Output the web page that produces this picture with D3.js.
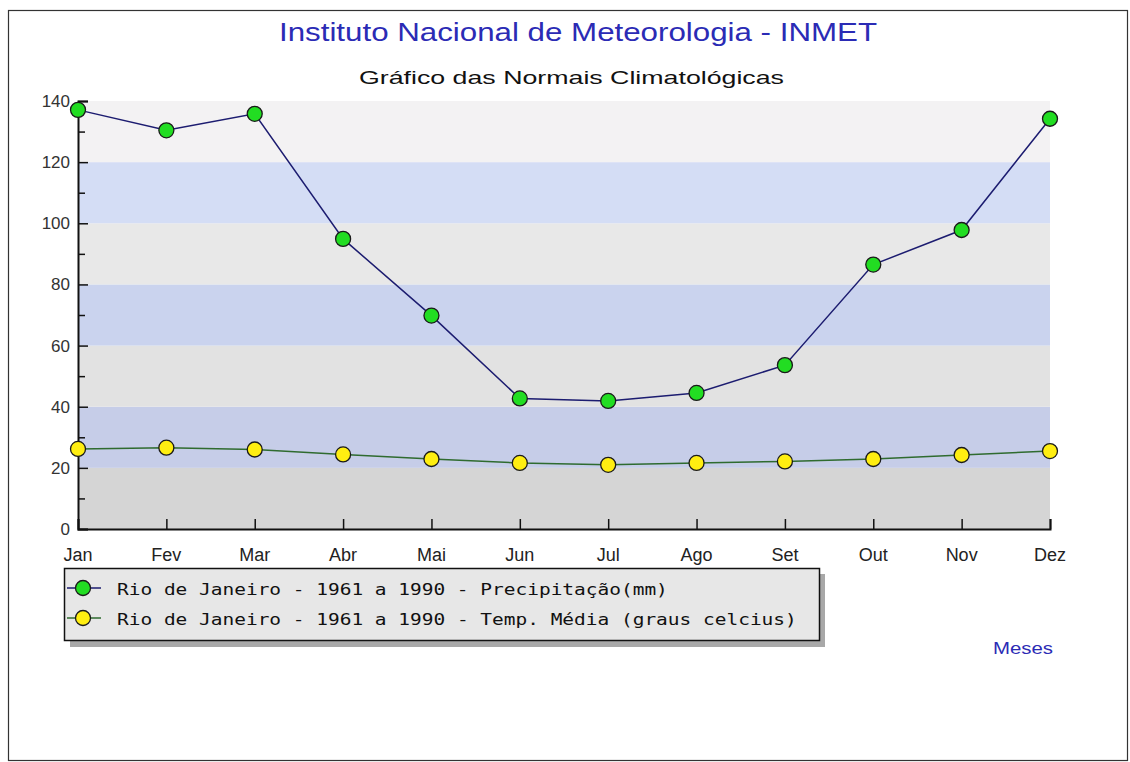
<!DOCTYPE html>
<html>
<head>
<meta charset="utf-8">
<script src="https://cdn.jsdelivr.net/npm/d3@7"></script>
<style>
  body { margin: 0; background: #fff; }
  svg { display: block; font-family: "Liberation Sans", Arial, sans-serif; }
</style>
</head>
<body>
<div id="chart"></div>
<script>
const months = ["Jan", "Fev", "Mar", "Abr", "Mai", "Jun", "Jul", "Ago", "Set", "Out", "Nov", "Dez"];
const precipitation = [137.1, 130.4, 135.8, 94.9, 69.8, 42.7, 41.9, 44.5, 53.6, 86.5, 97.8, 134.2];
const temperature = [26.2, 26.6, 26.0, 24.4, 22.9, 21.6, 21.0, 21.6, 22.1, 22.9, 24.2, 25.5];
const yTicks = [0, 20, 40, 60, 80, 100, 120, 140];
const seriesNames = [
    "Rio de Janeiro - 1961 a 1990 - Precipitação(mm)",
    "Rio de Janeiro - 1961 a 1990 - Temp. Média (graus celcius)"
];

// band fills from bottom (0-20) to top (120-140)
const bandColors = ["#d5d5d5", "#c6cde8", "#e2e2e2", "#cad3ee", "#e8e8e8", "#d4ddf5", "#f3f2f3"];

const W = 1130, H = 762;
const margin = { top: 101, left: 78, right: 80, bottom: 233 };
const width = W - margin.left - margin.right;
const height = H - margin.top - margin.bottom;

const svg = d3.select("#chart").append("svg")
    .attr("width", W)
    .attr("height", H);

// outer frame
svg.append("rect")
    .attr("x", 8.5).attr("y", 10.5)
    .attr("width", 1119).attr("height", 750)
    .attr("fill", "none")
    .attr("stroke", "#333")
    .attr("stroke-width", 1.2);

svg.append("text")
    .attr("x", 279).attr("y", 41)
    .attr("fill", "#2b2bb5")
    .attr("textLength", 598)
    .attr("lengthAdjust", "spacingAndGlyphs")
    .style("font-size", "26px")
    .text("Instituto Nacional de Meteorologia - INMET");

svg.append("text")
    .attr("x", 359).attr("y", 84)
    .attr("fill", "#111")
    .attr("textLength", 425)
    .attr("lengthAdjust", "spacingAndGlyphs")
    .style("font-size", "19px")
    .text("Gráfico das Normais Climatológicas");

const g = svg.append("g")
    .attr("transform", `translate(${margin.left},${margin.top})`);

const x = d3.scalePoint()
    .domain(months)
    .range([0, width]);

const y = d3.scaleLinear()
    .domain([0, 140])
    .range([height, 0]);

// background bands
g.selectAll(".band")
    .data(yTicks.slice(0, -1))
    .enter()
    .append("rect")
    .attr("class", "band")
    .attr("x", 0)
    .attr("width", width)
    .attr("y", d => y(d + 20))
    .attr("height", d => y(d) - y(d + 20))
    .attr("fill", (d, i) => bandColors[i]);

// y axis, ticks pointing into the plot
const yAxis = g.append("g")
    .call(d3.axisRight(y).tickValues(d3.range(0, 141, 10)).tickSize(10).tickFormat(""));
yAxis.selectAll(".tick line")
    .attr("stroke", "#111")
    .attr("stroke-width", 1.5)
    .attr("x2", d => d % 20 === 0 ? 10 : 7);
yAxis.select(".domain").attr("stroke", "#111").attr("stroke-width", 2);

g.selectAll(".ylabel")
    .data(yTicks)
    .enter()
    .append("text")
    .attr("class", "ylabel")
    .attr("x", -8)
    .attr("y", d => y(d) + 6)
    .attr("text-anchor", "end")
    .attr("fill", "#333")
    .style("font-size", "17px")
    .text(d => d);

// x axis, ticks pointing up
const xAxis = g.append("g")
    .attr("transform", `translate(0,${height})`)
    .call(d3.axisTop(x).tickSize(10).tickFormat(""));
xAxis.selectAll(".tick line").attr("stroke", "#111").attr("stroke-width", 1.5);
xAxis.select(".domain").attr("stroke", "#111").attr("stroke-width", 2);

g.selectAll(".xlabel")
    .data(months)
    .enter()
    .append("text")
    .attr("class", "xlabel")
    .attr("x", d => x(d))
    .attr("y", height + 32)
    .attr("text-anchor", "middle")
    .attr("fill", "#222")
    .style("font-size", "18px")
    .text(d => d);

const series = [
    { values: precipitation, line: "#1c1c70", fill: "#22dd22" },
    { values: temperature, line: "#2f6b2f", fill: "#ffee11" }
];

const line = d3.line()
    .x((d, i) => x(months[i]))
    .y(d => y(d));

series.forEach(s => {
    g.append("path")
        .datum(s.values)
        .attr("fill", "none")
        .attr("stroke", s.line)
        .attr("stroke-width", 1.5)
        .attr("d", line);

    g.selectAll(null)
        .data(s.values)
        .enter()
        .append("circle")
        .attr("cx", (d, i) => x(months[i]))
        .attr("cy", d => y(d))
        .attr("r", 7.5)
        .attr("fill", s.fill)
        .attr("stroke", "#1a1a1a")
        .attr("stroke-width", 1.3);
});

// legend
const legend = svg.append("g").attr("transform", "translate(64,568)");
legend.append("rect")
    .attr("x", 6).attr("y", 6)
    .attr("width", 755).attr("height", 73)
    .attr("fill", "#a8a8a8");
legend.append("rect")
    .attr("x", 0.5).attr("y", 0.5)
    .attr("width", 755).attr("height", 72)
    .attr("fill", "#e7e7e7")
    .attr("stroke", "#111")
    .attr("stroke-width", 1.5);

seriesNames.forEach((name, i) => {
    const row = legend.append("g").attr("transform", `translate(0,${20 + i * 30})`);
    row.append("line")
        .attr("x1", 3).attr("x2", 37)
        .attr("stroke", series[i].line)
        .attr("stroke-width", 1.6);
    row.append("circle")
        .attr("cx", 19).attr("r", 7.5)
        .attr("fill", series[i].fill)
        .attr("stroke", "#1a1a1a")
        .attr("stroke-width", 1.3);
    row.append("text")
        .attr("x", 53).attr("y", 7)
        .attr("fill", "#111")
        .attr("textLength", name.length * 11.72)
        .attr("lengthAdjust", "spacingAndGlyphs")
        .style("font-family", "'DejaVu Sans Mono', 'Liberation Mono', monospace")
        .style("font-size", "16px")
        .text(name);
});

svg.append("text")
    .attr("x", 993).attr("y", 654)
    .attr("fill", "#2b2bb5")
    .attr("textLength", 60)
    .attr("lengthAdjust", "spacingAndGlyphs")
    .style("font-size", "16px")
    .text("Meses");
</script>
</body>
</html>
